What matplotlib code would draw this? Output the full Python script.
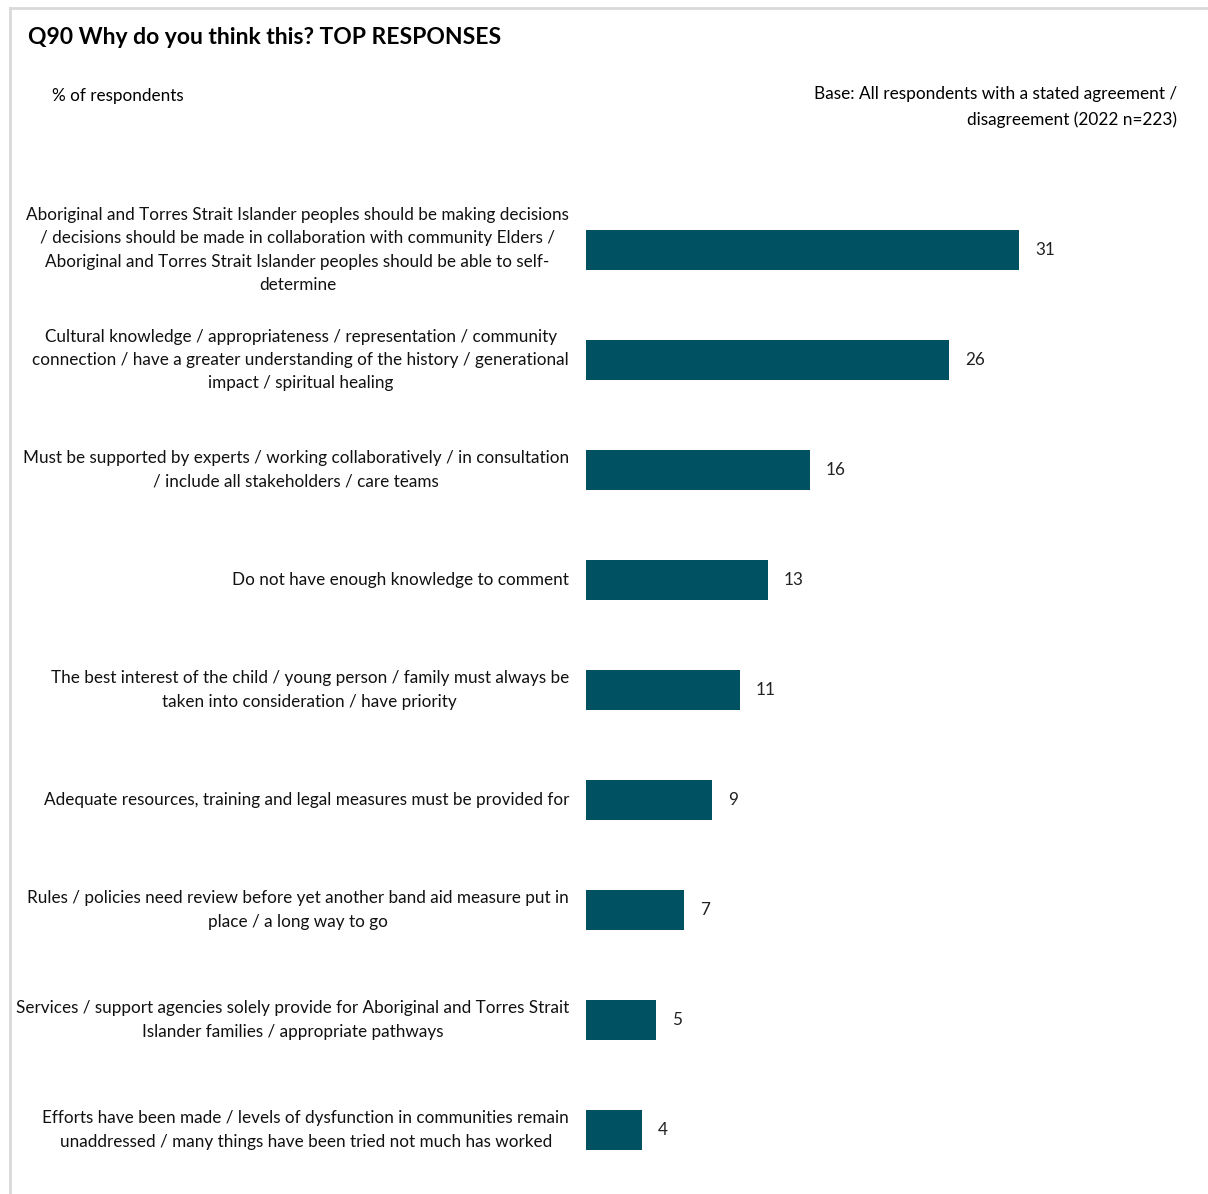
import matplotlib.pyplot as plt
from matplotlib.lines import Line2D

plt.rcParams['font.family'] = ['Lato', 'DejaVu Sans']

categories = [
    'Aboriginal and Torres Strait Islander peoples should be making decisions\n/ decisions should be made in collaboration with community Elders /\nAboriginal and Torres Strait Islander peoples should be able to self-\ndetermine',
    'Cultural knowledge / appropriateness / representation / community\nconnection / have a greater understanding of the history / generational\nimpact / spiritual healing',
    'Must be supported by experts / working collaboratively / in consultation\n/ include all stakeholders / care teams',
    'Do not have enough knowledge to comment',
    'The best interest of the child / young person / family must always be\ntaken into consideration / have priority',
    'Adequate resources, training and legal measures must be provided for',
    'Rules / policies need review before yet another band aid measure put in\nplace / a long way to go',
    'Services / support agencies solely provide for Aboriginal and Torres Strait\nIslander families / appropriate pathways',
    'Efforts have been made / levels of dysfunction in communities remain\nunaddressed / many things have been tried not much has worked',
]
values = [31, 26, 16, 13, 11, 9, 7, 5, 4]

W, H = 1208, 1194
fig = plt.figure(figsize=(W / 100, H / 100), dpi=100)

# axes placed in pixel terms: bars start at x=586, rows 110px tall from y=195
ax = fig.add_axes([586 / W, 1 - 1185 / H, (W - 586) / W, 990 / H])
ypos = list(range(len(values)))
ax.barh(ypos, values, height=0.364, color='#005263')
ax.set_xlim(0, (W - 586) / 13.97)
ax.set_ylim(len(values) - 0.5, -0.5)
ax.axis('off')

for y, v in zip(ypos, values):
    ax.annotate(str(v), (v, y), xytext=(11.5, 0), textcoords='offset points',
                va='center', ha='left', fontsize=12.3, color='#222222')

for y, lab in zip(ypos, categories):
    fy = 1 - (195 + 110 * y + 55) / H
    fig.text(569 / W, fy, lab, ha='right', va='center', fontsize=12.3,
             linespacing=1.55, multialignment='center', color='#111111')

fig.text(28 / W, 1 - 37 / H, 'Q90 Why do you think this? TOP RESPONSES',
         ha='left', va='center', fontsize=16.5, fontweight='bold')
fig.text(52 / W, 1 - 96 / H, '% of respondents', ha='left', va='center',
         fontsize=12.3)
fig.text(1177 / W, 1 - 107 / H,
         'Base: All respondents with a stated agreement /\ndisagreement (2022 n=223)',
         ha='right', va='center', fontsize=12.4, linespacing=1.75,
         multialignment='right')

# frame lines
fig.add_artist(Line2D([10 / W, 1], [1 - 8 / H, 1 - 8 / H], color='#d9d9d9', lw=2))
fig.add_artist(Line2D([10 / W, 10 / W], [0, 1 - 8 / H], color='#d9d9d9', lw=2))

fig.savefig('out.png', dpi=100)
